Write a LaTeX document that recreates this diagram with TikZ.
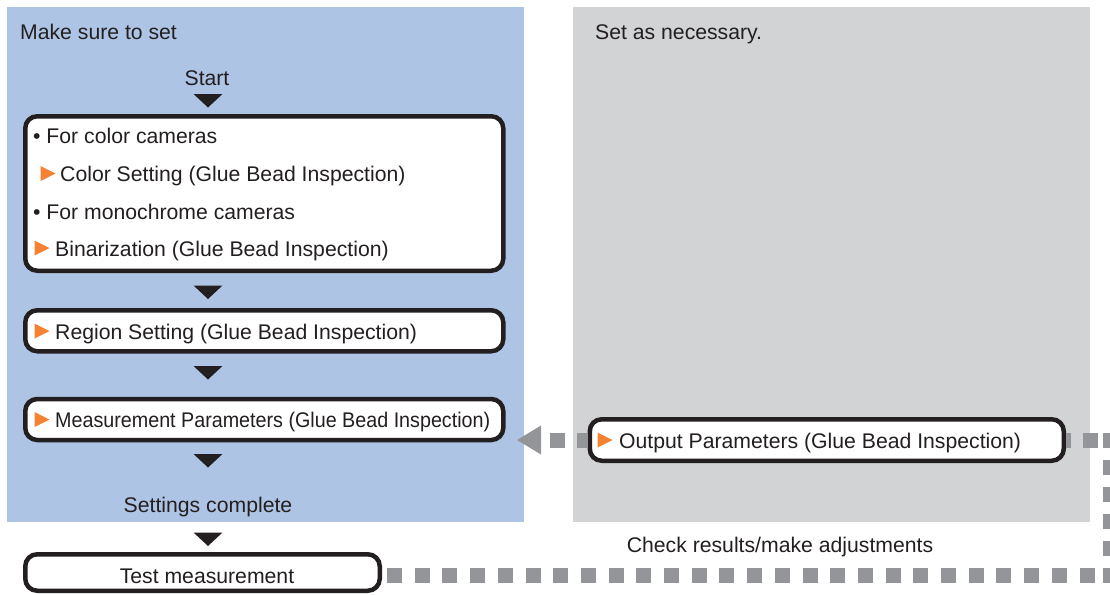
\documentclass[tikz,border=0pt]{standalone}
\usepackage{fontspec}
\setmainfont{Liberation Sans}
\usetikzlibrary{calc}
\definecolor{panelblue}{RGB}{174,196,228}
\definecolor{panelgray}{RGB}{209,211,212}
\definecolor{dotgray}{RGB}{147,149,152}
\definecolor{ink}{RGB}{35,31,32}
\definecolor{markorange}{RGB}{245,130,50}
\newcommand\dtri[2]{\fill[ink] (#1-14.5,#2) -- (#1+14.5,#2) -- (#1,#2+13.5) -- cycle;}
\newcommand\otri[2]{\fill[markorange] (#1,#2-7.5) -- (#1+15,#2) -- (#1,#2+7.5) -- cycle;}
\begin{document}
\begin{tikzpicture}[x=1pt,y=-1pt,
  font=\fontsize{21.2}{24}\selectfont, text=ink,
  box/.style={draw=ink, line width=4.5pt, fill=white, rounded corners=12pt, inner sep=0pt},
  txt/.style={anchor=base west, inner sep=0pt},
  ctxt/.style={anchor=base, inner sep=0pt},
  gdash/.style={draw=dotgray, line width=15pt, dash pattern=on 15pt off 12pt}]
\useasboundingbox (0,0) rectangle (1110,594);
% panels
\fill[panelblue] (7,7) rectangle (523.5,522);
\fill[panelgray] (573,7) rectangle (1089.5,522);
\node[txt] (mks) at (20,40) {Make sure to set};
\node[txt] (san) at (595,39.5) {Set as necessary.};
% start
\node[ctxt] (start) at (207,85) {Start};
\dtri{208}{94}
% box 1
\node[box, minimum width=478pt, minimum height=154.5pt] (box1) at (264.25,193.5) {};
\node[txt] (l1) at (33,143.6) {• For color cameras};
\otri{40.5}{173.5}
\node[txt] (l2) at (60,181.8) {Color Setting (Glue Bead Inspection)};
\node[txt] (l3) at (33,219.8) {• For monochrome cameras};
\otri{34.5}{248}
\node[txt] (l4) at (55,256.2) {Binarization (Glue Bead Inspection)};
\dtri{208}{285.5}
% box 2
\node[box, minimum width=478pt, minimum height=41pt] (box2) at (264.25,330.75) {};
\otri{34.5}{331}
\node[txt] (t2) at (55,339.2) {Region Setting (Glue Bead Inspection)};
\dtri{208}{366}
% box 3
\node[box, minimum width=478pt, minimum height=41pt] (box3) at (264.25,419.5) {};
\otri{34.5}{419.5}
\node[txt] (t3) at (55,427) {\scalebox{0.93}[1]{Measurement Parameters (Glue Bead Inspection)}};
\dtri{208}{454}
\node[ctxt] (done) at (208,512.5) {Settings complete};
\dtri{208}{532.5}
% test box
\node[box, minimum width=354.5pt, minimum height=36.5pt] (testbox) at (202.5,572.5) {};
\node[ctxt] (tt) at (207,583) {Test measurement};
% output box
\node[box, minimum width=474pt, minimum height=41.5pt] (outbox) at (826.75,440) {};
\otri{597.5}{440}
\node[txt] (to) at (619,448) {Output Parameters (Glue Bead Inspection)};
\node[ctxt] (chk) at (780,552) {Check results/make adjustments};
% gray dotted connectors
\coordinate (c1) at (1110,440);
\coordinate (c2) at (1110,575);
\coordinate (gtip) at (517,440);
\draw[gdash] ($(gtip)+(33,0)$) -- (outbox.west);
\fill[dotgray] (gtip) -- ++(24,-14.5) -- ++(0,29) -- cycle;
\draw[gdash, dash phase=22.5pt] ($(c1)+(-7.5,0)$) -- (outbox.east);
\draw[gdash] ($(c2)+(0,7.5)$) -- ($(c1)+(0,-7.5)$);
\draw[gdash, dash pattern=on 15pt off 12.7pt, dash phase=22.7pt] (testbox.east |- c2) -- ($(c2)+(-7.5,0)$);
\end{tikzpicture}
\end{document}
